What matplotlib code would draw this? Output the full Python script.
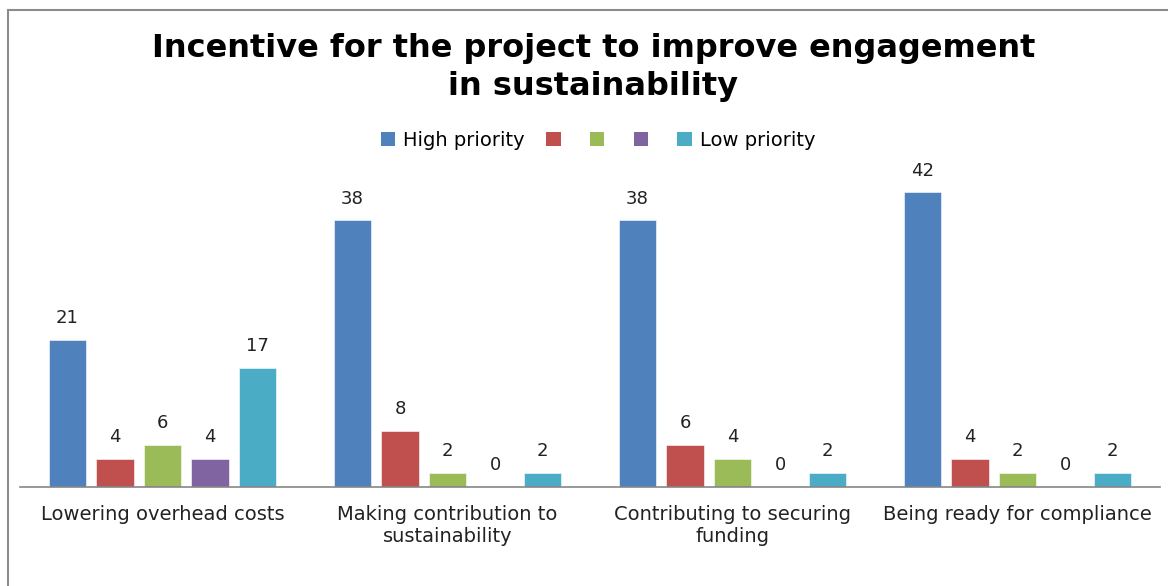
import numpy as np
import matplotlib.pyplot as plt
from matplotlib.patches import Rectangle, Patch

categories = ['Lowering overhead costs', 'Making contribution to\nsustainability',
              'Contributing to securing\nfunding', 'Being ready for compliance']
series_names = ['High priority', '', '', '', 'Low priority']
high = [21, 38, 38, 42]
second = [4, 8, 6, 4]
third = [6, 2, 4, 2]
fourth = [4, 0, 0, 0]
low = [17, 2, 2, 2]
series = [high, second, third, fourth, low]
colors = ['#4F81BD', '#C0504D', '#9BBB59', '#8064A2', '#4BACC6']

plt.rcParams['font.family'] = 'DejaVu Sans'

fig = plt.figure(figsize=(11.68, 5.86), dpi=100)
ax = fig.add_axes([20 / 1168, 99 / 586, 1140 / 1168, 316 / 586])

# chart frame (runs off the right and bottom edges)
fig.patches.append(Rectangle((8 / 1168, -0.1), 1.2, 0.1 + 576 / 586, transform=fig.transFigure,
                             fill=False, edgecolor='#8c8c8c', linewidth=1.5))

x = np.arange(len(categories))
step = 0.1667
width = 0.133
for i, (vals, c) in enumerate(zip(series, colors)):
    pos = x + (i - 2) * step
    ax.bar(pos, vals, width, color=c, edgecolor='white', linewidth=0.4)
    for p, v in zip(pos, vals):
        ax.annotate(str(v), (p, v), xytext=(0, 9), textcoords='offset points',
                    ha='center', va='bottom', fontsize=13, color='#222222')

ax.set_xlim(-0.5, len(categories) - 0.5)
ax.set_ylim(0, 45)
ax.set_yticks([])
ax.set_xticks(x)
ax.set_xticklabels(categories, fontsize=14, color='#222222', linespacing=1.2)
ax.tick_params(axis='x', length=0, pad=13)
for s in ['top', 'right', 'left']:
    ax.spines[s].set_visible(False)
ax.spines['bottom'].set_color('#868686')
ax.spines['bottom'].set_linewidth(1.2)

fig.text(0.508, 0.885, 'Incentive for the project to improve engagement\nin sustainability',
         ha='center', va='center', fontsize=23, fontweight='bold', linespacing=1.28)

handles = [Patch(facecolor=c) for c in colors]
fig.legend(handles, series_names, loc='center', bbox_to_anchor=(0.512, 0.761), ncol=5,
           frameon=False, fontsize=14, handlelength=0.75, handleheight=0.75,
           handletextpad=0.4, columnspacing=1.1)

fig.savefig('out.png', dpi=100)
